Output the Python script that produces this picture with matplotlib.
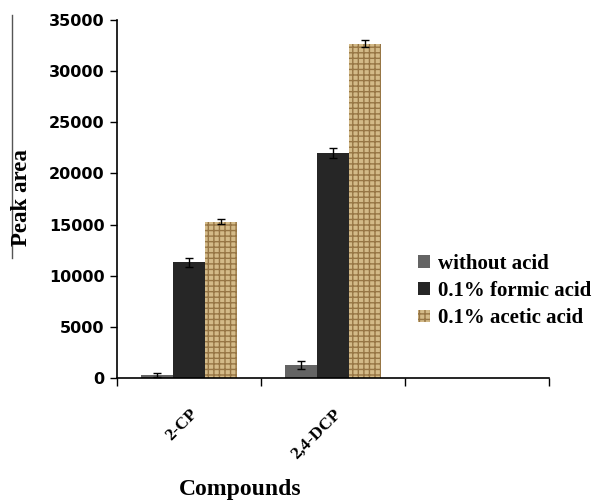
import numpy as np
import matplotlib
matplotlib.use("Agg")
import matplotlib.pyplot as plt
from matplotlib.lines import Line2D

compounds = ["2-CP", "2,4-DCP"]
series = ["without acid", "0.1% formic acid", "0.1% acetic acid"]
without_acid = [250, 1250]
without_err = [200, 400]
formic_acid = [11300, 22000]
formic_err = [400, 500]
acetic_acid = [15300, 32700]
acetic_err = [200, 300]

values = [without_acid, formic_acid, acetic_acid]
errors = [without_err, formic_err, acetic_err]
colors = ["#646464", "#262626", "#d3ba88"]
hatches = [None, None, "+++"]
edges = ["#646464", "#262626", "#977645"]

plt.rcParams["hatch.linewidth"] = 1.0
serif = ["Liberation Serif", "DejaVu Serif"]

fig = plt.figure(figsize=(6.03, 5.04), dpi=100)
ax = fig.add_axes([117 / 603, 1 - 378 / 504, 432 / 603, 358 / 504])

x = np.arange(len(compounds)) + 0.5
w = 0.222
for i, (vals, errs) in enumerate(zip(values, errors)):
    pos = x + (i - 1) * w
    ax.bar(pos, vals, width=w, color=colors[i], hatch=hatches[i],
           edgecolor=edges[i], linewidth=0, label=series[i], zorder=2)
    ax.errorbar(pos, vals, yerr=errs, fmt="none", ecolor="black",
                elinewidth=1, capsize=3, capthick=1, zorder=3)

ax.set_xlim(0, 3)
ax.set_ylim(0, 35000)
ax.set_yticks(range(0, 35001, 5000))
ax.set_xticks([0, 1, 2, 3])
ax.set_xticklabels([])
ax.set_xticks(x, minor=True)
ax.set_xticklabels(compounds, minor=True, rotation=45, ha="right",
                   rotation_mode="anchor", family=serif,
                   fontweight="bold", fontsize=12.5)
ax.tick_params(axis="x", which="minor", length=0, pad=20)
ax.tick_params(axis="x", which="major", length=6, width=1)
ax.tick_params(axis="y", length=5, width=1, pad=4)
for lab in ax.get_yticklabels():
    lab.set_fontweight("bold")
    lab.set_fontsize(11.5)
for s in ["top", "right"]:
    ax.spines[s].set_visible(False)
for s in ["left", "bottom"]:
    ax.spines[s].set_linewidth(1.2)

fig.text(22 / 603, 1 - 198 / 504, "Peak area", rotation=90, ha="center",
         va="center", family=serif, fontweight="bold", fontsize=16.5)
fig.text(240 / 603, 1 - 490 / 504, "Compounds", ha="center", va="center",
         family=serif, fontweight="bold", fontsize=17)
fig.add_artist(Line2D([12 / 603, 12 / 603], [1 - 15 / 504, 1 - 258 / 504],
                      color="#555555", linewidth=1))

fig.legend(loc="center left", bbox_to_anchor=(410 / 603, 1 - 291 / 504),
           frameon=False, prop={"family": serif, "weight": "bold", "size": 15},
           handlelength=0.55, handleheight=0.55, handletextpad=0.4,
           labelspacing=0.35, borderaxespad=0)

fig.savefig("out.png", dpi=100)
